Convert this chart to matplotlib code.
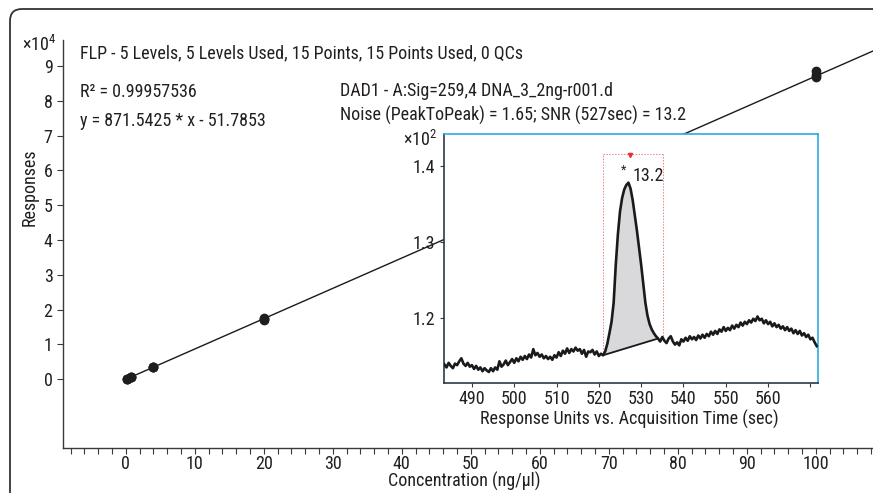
import numpy as np
import matplotlib
matplotlib.use("Agg")
import matplotlib.pyplot as plt
from matplotlib import font_manager
from matplotlib.patches import FancyBboxPatch
from matplotlib.transforms import IdentityTransform

# narrow sans if there is one, otherwise Liberation Sans
have = {f.name for f in font_manager.fontManager.ttflist}
fam = 'DejaVu Sans'
for name in ['Liberation Sans Narrow', 'Roboto Condensed', 'Open Sans Condensed', 'Liberation Sans']:
    if name in have:
        fam = name
        break
fs = 13 if 'Narrow' in fam or 'Condensed' in fam else 11.5

plt.rcParams['font.family'] = [fam, 'DejaVu Sans']
plt.rcParams['mathtext.fontset'] = 'custom'
plt.rcParams['mathtext.rm'] = fam
plt.rcParams['font.size'] = fs

# calibration data (5 levels x 3 replicates)
conc = [0.16, 0.16, 0.16, 0.8, 0.8, 0.8, 4, 4, 4, 20, 20, 20, 100, 100, 100]
resp = [80, 95, 110, 620, 650, 680, 3380, 3440, 3500, 16900, 17300, 17600, 86800, 87400, 88700]
slope = 871.5425
intercept = -51.7853
r2 = 0.99957536

# chromatogram, 0.5 s sampling from 483.5 s
sig_t0 = 483.5
sig_dt = 0.5
signal = [
    113.9, 113.5, 114.1, 113.7, 113.4, 114.0, 113.8, 114.3, 114.7, 114.0, 113.7, 114.1, 113.6, 113.8,
    113.3, 113.7, 113.2, 113.5, 113.0, 113.4, 113.1, 112.9, 113.4, 113.0, 113.5, 113.2, 114.3, 113.6,
    113.9, 114.4, 113.8, 114.2, 114.6, 114.1,
    114.7, 114.3, 114.9, 114.5, 115.0, 114.6, 115.2, 114.8, 115.9, 115.1, 115.4, 114.9, 115.2, 114.7,
    115.0, 114.6, 114.9, 114.5, 115.1, 114.8,
    115.5, 115.0, 115.7, 115.3, 116.0, 115.4, 115.9, 115.6, 116.1, 115.7, 115.9, 115.3, 115.8, 114.9,
    115.6, 115.5, 115.8, 115.2, 115.6, 115.0, 115.3,
    # peak
    115.1, 115.6, 116.6, 118.0, 119.5, 122.0, 127.0, 131.0, 134.0, 135.8, 136.9, 137.5, 137.8, 137.0,
    135.5, 133.5, 131.5, 129.3, 127.0, 124.5, 122.0, 120.3, 119.2, 118.5, 118.0, 117.6, 117.3,
    116.9, 117.5, 117.0, 116.7, 117.3, 117.6, 116.9, 116.5, 116.8, 116.4, 117.2, 116.9,
    117.4, 117.0, 117.6, 117.2, 117.5, 117.1, 117.7, 117.3, 117.8, 117.4, 117.9, 117.6, 118.2, 117.8,
    118.3, 117.9, 118.5, 118.2, 118.8, 118.3,
    118.7, 118.4, 119.0, 118.6, 119.1, 118.8, 119.4, 119.0, 119.5, 119.2, 119.7, 119.4, 119.9, 119.6,
    120.2, 119.7, 119.9, 119.3, 119.7, 119.2,
    119.5, 118.9, 119.3, 118.8, 119.1, 118.6, 118.9, 118.4, 118.8, 118.3, 118.6, 118.0, 118.4, 117.9,
    118.3, 117.7, 118.0, 117.5, 117.8, 117.2, 117.4, 116.8, 116.3,
]
peak_start, peak_end = 521.0, 534.0
peak_apex = 527.0
snr_value = 13.2

txt = '#231f20'
spine_c = '#3a3a3a'
W, H = 873, 493


def px(x, y):
    return x / W, 1 - y / H


fig = plt.figure(figsize=(W / 100, H / 100), dpi=100)

# outer rounded frame
frame = FancyBboxPatch((10, -40), 960, 484 + 40, boxstyle="round,pad=0,rounding_size=12",
                       transform=IdentityTransform(), fill=False, ec='#333333', lw=1.3)
fig.patches.append(frame)

# main calibration axes
ax = fig.add_axes([63 / W, 1 - 448 / H, 1 - 63 / W, (448 - 40) / H])
ax.set_xlim(-9.1, 108.3)
ax.set_ylim(-19800, 97500)
for s in ['top', 'right']:
    ax.spines[s].set_visible(False)
for s in ['left', 'bottom']:
    ax.spines[s].set_color(spine_c)
    ax.spines[s].set_linewidth(1.0)

line_x = np.array([min(conc), ax.get_xlim()[1]])
ax.plot(line_x, slope * line_x + intercept, color='#1a1a1a', lw=1.0, zorder=2)
ax.plot(conc, resp, 'o', color='#1e1e1e', ms=6, zorder=3)
ax.plot(conc[-1], resp[-1], 'o', color='#3d85c6', ms=5, zorder=2.5)

ax.set_xticks(np.arange(0, 101, 10))
ax.set_xticks(np.arange(-8, 109, 2), minor=True)
ax.set_yticks(np.arange(0, 90001, 10000))
ax.set_yticklabels([str(i) for i in range(10)])
ax.tick_params(which='both', direction='out', length=4, width=0.8, color=spine_c, labelcolor=txt,
               labelsize=fs)
ax.tick_params(axis='x', pad=1)

fig.text(*px(22, 45), r'×10$^{4}$', color=txt, ha='left', va='center', fontsize=fs)
fig.text(*px(30, 187), 'Responses', rotation=90, color=txt, ha='center', va='center', fontsize=fs)
fig.text(*px(464, 481), 'Concentration (ng/µl)', color=txt, ha='center', va='center', fontsize=fs)
fig.text(*px(80, 53), 'FLP - 5 Levels, 5 Levels Used, 15 Points, 15 Points Used, 0 QCs',
         color=txt, ha='left', va='center', fontsize=fs)
fig.text(*px(80, 92), f'R² = {r2}', color=txt, ha='left', va='center', fontsize=fs)
fig.text(*px(80, 121), f'y = {slope} * x - {abs(intercept)}', color=txt, ha='left', va='center',
         fontsize=fs)
fig.text(*px(340, 91), 'DAD1 - A:Sig=259,4 DNA_3_2ng-r001.d', color=txt, ha='left', va='center',
         fontsize=fs)
fig.text(*px(340, 115), f'Noise (PeakToPeak) = 1.65; SNR ({int(peak_apex)}sec) = {snr_value}',
         color=txt, ha='left', va='center', fontsize=fs)

# inset chromatogram
ins = fig.add_axes([444 / W, 1 - 383 / H, (818 - 444) / W, (383 - 134) / H])
ins.set_facecolor('white')
t = sig_t0 + sig_dt * np.arange(len(signal))
sig = np.array(signal)
ins.set_xlim(483.4, 571.8)
ins.set_ylim(111.45, 144.2)

y_start = sig[t == peak_start][0]
y_end = sig[t == peak_end][0]
mask = (t >= peak_start) & (t <= peak_end)
base = np.interp(t[mask], [peak_start, peak_end], [y_start, y_end])
ins.fill_between(t[mask], base, sig[mask], color='#d9d9db', lw=0, zorder=1)
ins.plot([peak_start, peak_end], [y_start, y_end], color='#1a1a1a', lw=1.3, zorder=2)
ins.plot(t, sig, color='#1a1a1a', lw=1.9, zorder=3)

# integration box
box_top = 141.6
box_right = peak_end + 1.2
dot = dict(color='#f08080', lw=0.7, ls=(0, (1.5, 1.5)), zorder=1)
ins.plot([peak_start, peak_start], [y_start, box_top], **dot)
ins.plot([box_right, box_right], [117.6, box_top], **dot)
ins.plot([peak_start, box_right], [box_top, box_top], **dot)
ins.plot(peak_apex + 0.4, box_top - 0.2, marker='v', color='#e53030', ms=3, zorder=4)
ins.text(peak_apex - 1.2, 139.4, '*', color=txt, fontsize=fs - 4, ha='center', va='center')
ins.text(peak_apex + 1.0, 138.7, f'{snr_value}', color=txt, fontsize=fs, ha='left', va='center')

ins.set_xticks(np.arange(490, 571, 10))
ins.set_xticklabels([str(v) for v in range(490, 561, 10)] + [''])
ins.set_yticks([120, 130, 140])
ins.set_yticklabels(['1.2', '1.3', '1.4'])
ins.tick_params(direction='out', length=3, width=0.8, color=spine_c, labelcolor=txt, labelsize=fs)
ins.tick_params(axis='x', pad=2)
for s in ['left', 'bottom']:
    ins.spines[s].set_color('#2b3a45')
    ins.spines[s].set_linewidth(1.2)
for s in ['top', 'right']:
    ins.spines[s].set_color('#29abe2')
    ins.spines[s].set_linewidth(1.2)

fig.text(*px(437, 140), r'×10$^{2}$', color=txt, ha='right', va='center', fontsize=fs)
fig.text(*px(629, 419), 'Response Units vs. Acquisition Time (sec)', color=txt, ha='center',
         va='center', fontsize=fs)

fig.savefig('out.png', dpi=100)
